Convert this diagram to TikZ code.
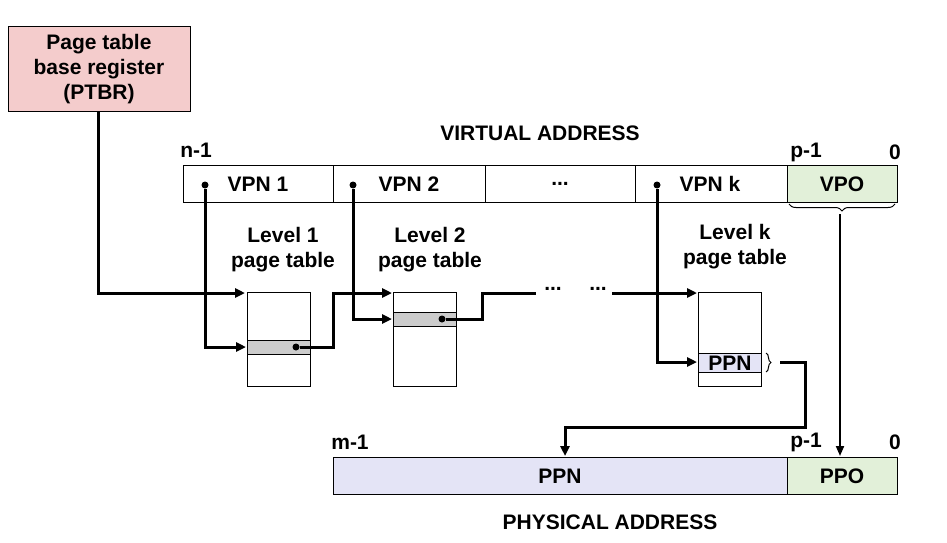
\documentclass[tikz,border=0pt]{standalone}
\usepackage{fontspec}
\setmainfont{Liberation Sans}
\usetikzlibrary{arrows.meta,decorations.pathreplacing}
\definecolor{pink}{HTML}{F4CCCC}
\definecolor{vgreen}{HTML}{E2F0D9}
\definecolor{lav}{HTML}{E4E4F6}
\begin{document}
\begin{tikzpicture}[x=1pt,y=-1pt,
  lbl/.style={font=\fontsize{21}{25}\selectfont\bfseries,inner sep=0pt,align=center},
  cell/.style={draw,line width=1pt},
  conn/.style={line width=3pt,-{Triangle[length=10pt,width=9pt]}},
  conn0/.style={line width=3pt},
  dot/.style={circle,fill,inner sep=0pt,minimum size=7pt}]
\useasboundingbox (0,0) rectangle (947,543);
% PTBR
\node[cell,fill=pink,minimum width=182pt,minimum height=84pt,lbl,draw] (ptbr) at (99,69) {Page table\\base register\\(PTBR)};
% virtual address
\node[lbl] (va) at (540,133) {VIRTUAL ADDRESS};
\node[lbl] (n1) at (196,150) {n-1};
\node[lbl] (vp1) at (806,152) {p-1};
\node[lbl] (v0) at (895,152) {0};
\draw[cell] (183,165) rectangle (787,202);
\foreach \x in {333,485,635} \draw[cell] (\x,165) -- (\x,202);
\draw[cell,fill=vgreen] (787,165) rectangle (897,202);
\node[lbl] (vpn1) at (258,184) {VPN 1};
\node[lbl] (vpn2) at (409,184) {VPN 2};
\node[lbl] (vdots) at (560,184) {...};
\node[lbl] (vpnk) at (710,184) {VPN k};
\node[lbl] (vpo) at (842,184) {VPO};
\draw[decorate,decoration={brace,mirror,amplitude=7pt},line width=1pt] (789,204) -- (895,204);
% labels
\node[lbl] (l1) at (283,250) {Level 1\\page table};
\node[lbl] (l2) at (430,250) {Level 2\\page table};
\node[lbl] (lk) at (735,247) {Level k\\page table};
% tables
\draw[cell] (247,292) rectangle (310,386);
\draw[cell,fill=black!20] (247,340) rectangle (310,354);
\draw[cell] (393,292) rectangle (456,386);
\draw[cell,fill=black!20] (393,312) rectangle (456,326);
\draw[cell] (698,292) rectangle (761,386);
\draw[cell,fill=lav] (698,353) rectangle (761,372);
\node[lbl] (ppnk) at (730,363) {PPN};
\draw[decorate,decoration={brace,amplitude=5pt},line width=1pt] (766,353) -- (766,372);
% dots
\node[dot] (d1) at (205,185) {};
\node[dot] (d2) at (353,185) {};
\node[dot] (dk) at (657,185) {};
\node[dot] (r1) at (296,347) {};
\node[dot] (r2) at (442,319) {};
\node[lbl] (e1) at (553,289) {...};
\node[lbl] (e2) at (598,289) {...};
\coordinate (pstart) at (98,111);
% connectors
\draw[conn] (pstart) |- (245,293);
\draw[conn] (d1) |- (246,347);
\draw[conn] (r1) -- (333,347) |- (392,293);
\draw[conn] (d2) |- (392,319);
\draw[conn0] (r2) -- (482,319) |- (536,293);
\draw[conn] (612,293) -- (697,293);
\draw[conn] (dk) |- (697,362);
\draw[conn] (780,362) -- (805,362) -- (805,427) -- (565,427) -- (565,456);
\draw[line width=2pt,-{Triangle[length=10pt,width=8pt]}] (840,214) -- (840,456);
% physical
\node[lbl] (m1) at (350,442) {m-1};
\node[lbl] (pp1) at (806,442) {p-1};
\node[lbl] (p0) at (895,442) {0};
\draw[cell,fill=lav] (333,457) rectangle (787,494);
\draw[cell,fill=vgreen] (787,457) rectangle (897,494);
\node[lbl] (ppn) at (560,476) {PPN};
\node[lbl] (ppo) at (842,476) {PPO};
\node[lbl] (pa) at (610,522) {PHYSICAL ADDRESS};
\end{tikzpicture}
\end{document}
